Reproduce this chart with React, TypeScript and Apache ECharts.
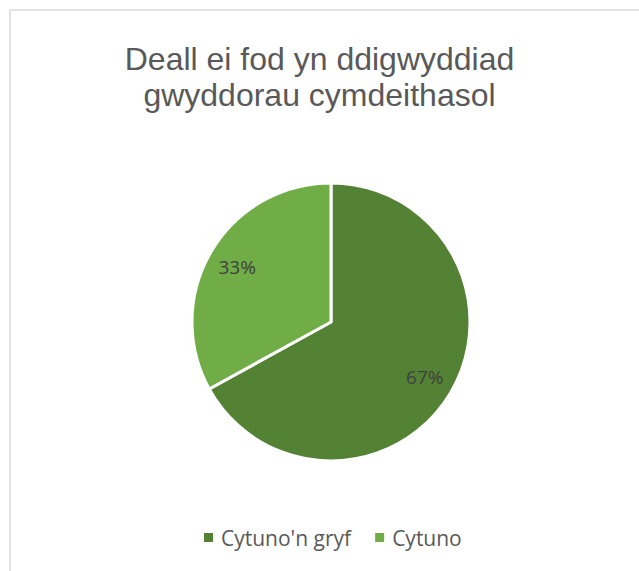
import React, { useEffect, useRef } from "react";
import * as echarts from "echarts";

const categories = ["Cytuno'n gryf", "Cytuno"];
const values = [67, 33];
const colors = ["#548235", "#70AD47"];
const titleLines = ["Deall ei fod yn ddigwyddiad", "gwyddorau cymdeithasol"];

export default function App() {
  const ref = useRef<HTMLDivElement>(null);
  useEffect(() => {
    document.body.style.margin = "0";
    const chart = echarts.init(ref.current!, null, { renderer: "svg" });
    const data = categories.map((name, i) => ({
      name,
      value: values[i],
      itemStyle: { color: colors[i] },
    }));
    const titleStyle = {
      fontFamily: "Liberation Sans",
      fontWeight: "normal",
      fontSize: 32,
      color: "#595959",
    };
    chart.setOption({
      animation: false,
      backgroundColor: "#ffffff",
      title: titleLines.map((t, i) => ({
        text: t,
        left: "center",
        top: 43 + i * 36,
        padding: 0,
        textStyle: titleStyle,
      })),
      legend: {
        data: categories,
        top: 527,
        left: 204,
        padding: 0,
        icon: "path://M0,0L9,0L9,9L0,9Z M12,4L12,5",
        itemWidth: 12,
        itemHeight: 9,
        itemGap: 24,
        itemStyle: { borderWidth: 0 },
        textStyle: { fontFamily: "Open Sans", fontSize: 21, color: "#595959" },
      },
      graphic: [
        {
          type: "rect",
          shape: { x: 10, y: 10, width: 700, height: 700 },
          style: { fill: "none", stroke: "#d9d9d9", lineWidth: 1.5 },
          silent: true,
        },
      ],
      series: [
        {
          type: "pie",
          center: [331, 322],
          radius: [0, 139],
          startAngle: 90,
          clockwise: true,
          data,
          label: { show: false },
          labelLine: { show: false },
          itemStyle: { borderColor: "#ffffff", borderWidth: 3 },
          emphasis: { disabled: true },
        },
        {
          type: "pie",
          center: [331, 322],
          radius: [73, 139],
          startAngle: 90,
          clockwise: true,
          silent: true,
          data: data.map((d) => ({ ...d, itemStyle: { color: "transparent" } })),
          label: {
            show: true,
            position: "inside",
            formatter: "{d}%",
            fontFamily: "Open Sans",
            fontSize: 19,
            color: "#404040",
          },
          labelLine: { show: false },
          itemStyle: { borderWidth: 0 },
          emphasis: { disabled: true },
        },
      ],
    });
    return () => chart.dispose();
  }, []);
  return <div ref={ref} style={{ width: 639, height: 571 }} />;
}
